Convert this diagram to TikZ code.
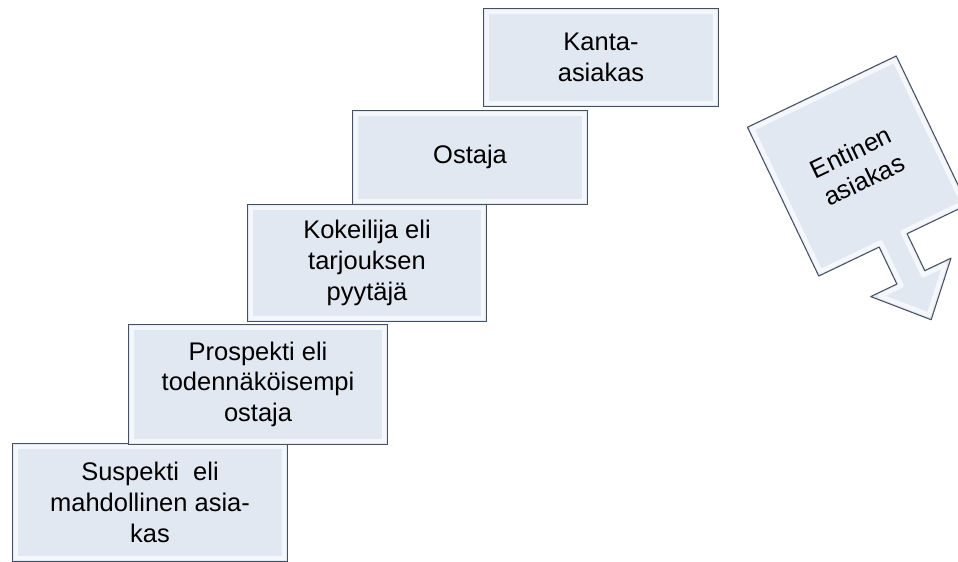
\documentclass[tikz,border=0pt]{standalone}
\usepackage{fontspec}
\setmainfont{Liberation Sans}
\usetikzlibrary{positioning}
\definecolor{boxfill}{RGB}{226,232,242}
\definecolor{boxline}{RGB}{70,80,96}
\definecolor{boxedge}{RGB}{244,247,252}

\begin{document}
\begin{tikzpicture}[
    stepbox/.style={rectangle, draw=boxline, line width=0.6pt, fill=boxfill, align=center, anchor=south west, inner sep=0pt, font=\fontsize{14.5}{17.5}\selectfont,
        path picture={\draw[boxedge, line width=2.5pt] ([shift={(0.07,0.07)}]path picture bounding box.south west) rectangle ([shift={(-0.07,-0.07)}]path picture bounding box.north east);}},
    callout/.style={draw=boxline, line width=0.6pt, fill=boxfill, line join=round},
]
    \clip (0,0) rectangle (19.16,11.24);

    % stairs
    \node[stepbox, minimum width=5.5cm, minimum height=2.36cm] (suspekti) at (0.24,0) {Suspekti\ \ eli\\mahdollinen asia-\\kas};
    \node[stepbox, minimum width=5.18cm, minimum height=2.4cm] (prospekti) at ([shift={(2.32,-0.04)}]suspekti.north west) {Prospekti eli\\todennäköisempi\\ostaja};
    \node[stepbox, minimum width=4.78cm, minimum height=2.34cm] (kokeilija) at ([shift={(2.38,0.04)}]prospekti.north west) {Kokeilija eli\\tarjouksen\\pyytäjä};
    \node[stepbox, minimum width=4.7cm, minimum height=1.88cm] (ostaja) at ([shift={(2.1,-0.02)}]kokeilija.north west) {Ostaja};
    \node[stepbox, minimum width=4.7cm, minimum height=1.96cm] (kanta) at ([shift={(2.62,0.06)}]ostaja.north west) {Kanta-\\asiakas};

    % former customer
    \coordinate (ent) at (17.15,7.92);
    \draw[callout, shift={(ent)}, rotate=25.6]
        (-1.65,1.65) -- (1.65,1.65) -- (1.65,-1.65) -- (0.31,-1.65) -- (0.31,-2.47)
        -- (0.89,-2.47) -- (0,-3.41) -- (-0.89,-2.47) -- (-0.31,-2.47) -- (-0.31,-1.65)
        -- (-1.65,-1.65) -- cycle;
    \draw[boxedge, line width=2.5pt, line join=round, shift={(ent)}, rotate=25.6]
        (-1.58,1.58) -- (1.58,1.58) -- (1.58,-1.58) -- (0.24,-1.58) -- (0.24,-2.54)
        -- (0.72,-2.54) -- (0,-3.3) -- (-0.72,-2.54) -- (-0.24,-2.54) -- (-0.24,-1.58)
        -- (-1.58,-1.58) -- cycle;
    \node[rotate=25.6, align=center, font=\fontsize{14.5}{17.5}\selectfont] (entinen) at (ent) {Entinen\\asiakas};
\end{tikzpicture}
\end{document}
